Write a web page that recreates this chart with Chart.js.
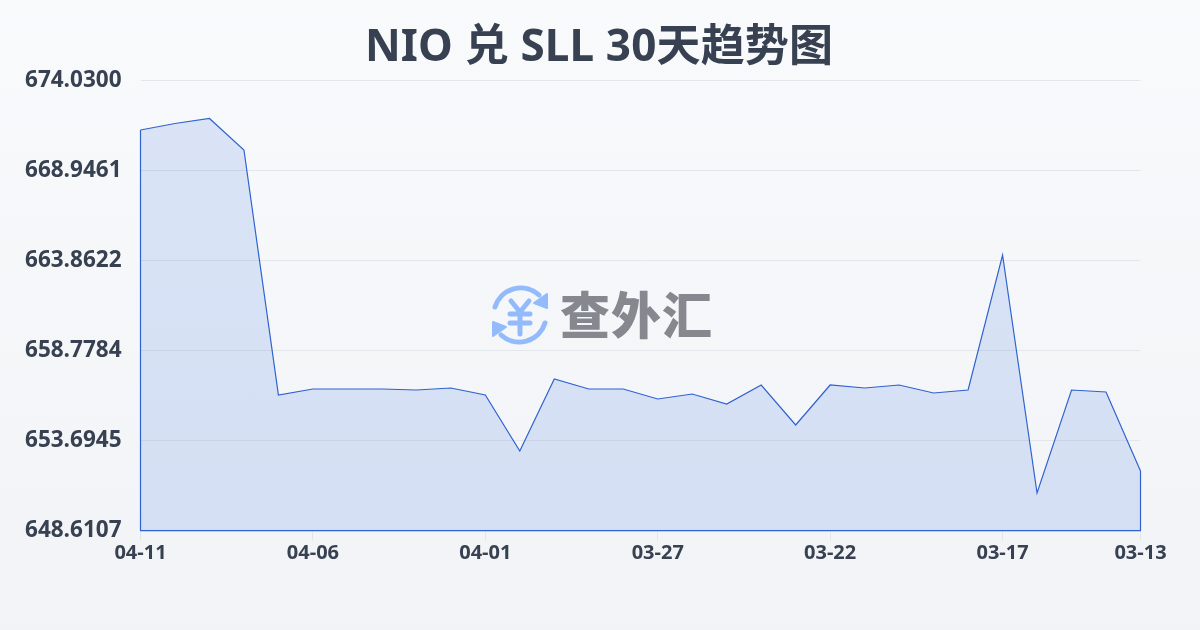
<!DOCTYPE html>
<html>
<head>
<meta charset="utf-8">
<title>NIO 兑 SLL 30天趋势图</title>
<script src="https://cdn.jsdelivr.net/npm/chart.js"></script>
<style>
    html, body { margin: 0; padding: 0; }
    body { width: 1200px; height: 630px; overflow: hidden; position: relative;
           background: linear-gradient(180deg, #f9fafc 0%, #f1f3f6 100%); }
    #chart { position: absolute; left: 0; top: 0; }
    #title { position: absolute; left: 0; top: 14px; width: 1198px; margin: 0; text-align: center;
             font: bold 44px/60px "Noto Sans", "Noto Sans CJK SC"; letter-spacing: 0.15px; color: #374151; }
    #mark { position: absolute; left: 488px; top: 284px; height: 62px; display: flex; align-items: center; }
    #mark svg { margin-right: 8px; }
    #mark span { font: 900 50px "Noto Sans CJK SC"; color: #85898f; line-height: 62px; letter-spacing: 1px; position: relative; top: -3px; }
</style>
</head>
<body>
<canvas id="chart" width="1200" height="630"></canvas>
<h1 id="title">NIO 兑 SLL 30天趋势图</h1>
<div id="mark">
    <svg width="64" height="62" viewBox="1 0 60 62" fill="none" stroke="#93bbfb" stroke-width="5" stroke-linecap="round" stroke-linejoin="round">
        <path d="M6 23 A27 27 0 0 1 50 11"/>
        <path d="M56 39 A27 27 0 0 1 12 51"/>
        <path d="M45 19 L58 24 L58 10 Z" fill="#93bbfb" stroke-width="2"/>
        <path d="M17 43 L4 38 L4 52 Z" fill="#93bbfb" stroke-width="2"/>
        <path d="M22 17 L31 28 L40 17 M21 30 H41 M21 39 H41 M31 28 V50"/>
    </svg>
    <span>查外汇</span>
</div>
<script>
// values
var dates = ['04-11','04-10','04-09','04-08','04-07','04-06','04-05','04-04','04-03','04-02',
             '04-01','03-31','03-30','03-29','03-28','03-27','03-26','03-25','03-24','03-23',
             '03-22','03-21','03-20','03-19','03-18','03-17','03-16','03-15','03-14','03-13'];
var rates = [671.234,671.600,671.884,670.104,656.265,656.604,656.604,656.604,656.547,656.660,
             656.265,653.102,657.169,656.604,656.604,656.039,656.321,655.757,656.830,654.570,
             656.830,656.660,656.830,656.378,656.547,664.173,650.729,656.547,656.434,651.972];
var xTickLabels = ['04-11','04-06','04-01','03-27','03-22','03-17','03-13'];
var yTicks = [648.6107,653.6945,658.7784,663.8622,668.9461,674.0300];

var lineBlue = '#2f62d0';

// the area outline is closed, chart.js only strokes the top
var edgePlugin = {
    id: 'edges',
    afterDatasetsDraw: function (chart) {
        var pts = chart.getDatasetMeta(0).data;
        var bottom = chart.chartArea.bottom;
        var ctx = chart.ctx;
        ctx.save();
        ctx.strokeStyle = lineBlue;
        ctx.lineWidth = 1.2;
        [pts[0], pts[pts.length - 1]].forEach(function (p) {
            ctx.beginPath();
            ctx.moveTo(p.x, p.y);
            ctx.lineTo(p.x, bottom);
            ctx.stroke();
        });
        ctx.restore();
    }
};

var ctx = document.getElementById('chart').getContext('2d');
new Chart(ctx, {
    type: 'line',
    data: {
        labels: dates,
        datasets: [{
            data: rates,
            borderColor: lineBlue,
            borderWidth: 1.2,
            backgroundColor: 'rgba(50,110,220,0.15)',
            fill: 'start',
            pointRadius: 0,
            tension: 0
        }]
    },
    options: {
        responsive: false,
        animation: false,
        layout: { padding: { left: 0, right: 59.5, top: 80.5, bottom: 0 } },
        plugins: {
            legend: { display: false },
            tooltip: { enabled: false }
        },
        scales: {
            x: {
                offset: false,
                afterBuildTicks: function (axis) {
                    axis.ticks = axis.ticks.filter(function (t) {
                        return xTickLabels.indexOf(dates[t.value]) >= 0;
                    });
                },
                afterFit: function (axis) { axis.height = 99.5; },
                border: { color: lineBlue, width: 1.2 },
                grid: { drawOnChartArea: false, color: '#e3e6ea', tickLength: 10 },
                ticks: {
                    autoSkip: false, maxRotation: 0, padding: 1, color: '#374151',
                    font: { family: '"Open Sans"', size: 20, weight: 'bold' }
                }
            },
            y: {
                min: yTicks[0],
                max: yTicks[yTicks.length - 1],
                afterBuildTicks: function (axis) {
                    axis.ticks = yTicks.map(function (v) { return { value: v }; });
                },
                afterFit: function (axis) { axis.width = 140.5; },
                border: { display: false },
                grid: { color: '#e3e6ea', lineWidth: 1, drawTicks: false },
                ticks: {
                    padding: 19, color: '#374151',
                    font: { family: '"Open Sans"', size: 22.5, weight: 'bold' },
                    callback: function (v) { return v.toFixed(4); }
                }
            }
        }
    },
    plugins: [edgePlugin]
});
</script>
</body>
</html>
